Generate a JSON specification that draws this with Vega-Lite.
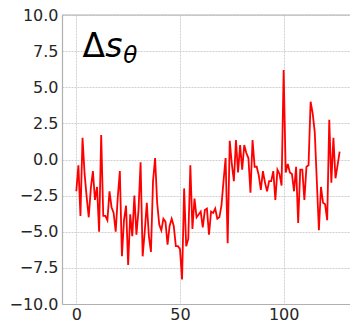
{
  "$schema": "https://vega.github.io/schema/vega-lite/v6.json",
  "autosize": "none",
  "padding": {"left": 62, "top": 15, "right": 0, "bottom": 18},
  "width": 288,
  "height": 289,
  "background": "white",
  "config": {
    "view": {"stroke": null},
    "font": "DejaVu Sans",
    "axis": {
      "labelFont": "DejaVu Sans",
      "labelFontSize": 16,
      "labelColor": "#262626",
      "labelOverlap": false,
      "labelBound": false,
      "domainColor": "#b0b0b0",
      "domainWidth": 1.2,
      "gridColor": "#cfcfcf",
      "gridDash": [2, 1],
      "gridWidth": 1,
      "ticks": false,
      "title": null
    }
  },
  "layer": [
    {
      "data": {"values": [
        {"x":0,"y":-2.2},{"x":1,"y":-0.4},{"x":2,"y":-3.9},{"x":3,"y":1.5},{"x":4,"y":-1.0},{"x":5,"y":-2.6},{"x":6,"y":-4.0},{"x":7,"y":-2.0},{"x":8,"y":-0.8},{"x":9,"y":-2.8},
        {"x":10,"y":-1.9},{"x":11,"y":-5.0},{"x":12,"y":1.7},{"x":13,"y":-3.9},{"x":14,"y":-3.9},{"x":15,"y":-4.2},{"x":16,"y":-2.2},{"x":17,"y":-3.3},{"x":18,"y":-3.7},{"x":19,"y":-5.0},
        {"x":20,"y":-2.6},{"x":21,"y":-0.8},{"x":22,"y":-6.7},{"x":23,"y":-4.2},{"x":24,"y":-3.2},{"x":25,"y":-7.3},{"x":26,"y":-3.8},{"x":27,"y":-5.3},{"x":28,"y":-2.5},{"x":29,"y":-5.2},
        {"x":30,"y":-3.5},{"x":31,"y":-0.2},{"x":32,"y":-6.7},{"x":33,"y":-5.0},{"x":34,"y":-3.0},{"x":35,"y":-5.3},{"x":36,"y":-6.4},{"x":37,"y":-1.5},{"x":38,"y":0.1},{"x":39,"y":-3.0},
        {"x":40,"y":-4.5},{"x":41,"y":-4.9},{"x":42,"y":-4.1},{"x":43,"y":-4.3},{"x":44,"y":-5.9},{"x":45,"y":-4.6},{"x":46,"y":-4.1},{"x":47,"y":-4.6},{"x":48,"y":-6.0},{"x":49,"y":-6.0},
        {"x":50,"y":-6.2},{"x":51,"y":-8.3},{"x":52,"y":-2.0},{"x":53,"y":-6.0},{"x":54,"y":-5.5},{"x":55,"y":-0.4},{"x":56,"y":-4.8},{"x":57,"y":-2.7},{"x":58,"y":-4.0},{"x":59,"y":-3.8},
        {"x":60,"y":-3.6},{"x":61,"y":-4.7},{"x":62,"y":-3.5},{"x":63,"y":-3.4},{"x":64,"y":-5.2},{"x":65,"y":-3.6},{"x":66,"y":-3.7},{"x":67,"y":-3.4},{"x":68,"y":-4.1},{"x":69,"y":-4.0},
        {"x":70,"y":-3.2},{"x":71,"y":-1.5},{"x":72,"y":0.1},{"x":73,"y":-5.8},{"x":74,"y":1.3},{"x":75,"y":-0.3},{"x":76,"y":-1.5},{"x":77,"y":1.35},{"x":78,"y":-0.9},{"x":79,"y":1.0},
        {"x":80,"y":-0.7},{"x":81,"y":1.0},{"x":82,"y":0.45},{"x":83,"y":0.1},{"x":84,"y":-2.3},{"x":85,"y":1.35},{"x":86,"y":-0.5},{"x":87,"y":-0.5},{"x":88,"y":-1.1},{"x":89,"y":-2.1},
        {"x":90,"y":-0.8},{"x":91,"y":-1.6},{"x":92,"y":-2.2},{"x":93,"y":-1.5},{"x":94,"y":-1.5},{"x":95,"y":-0.8},{"x":96,"y":-2.8},{"x":97,"y":-0.7},{"x":98,"y":-1.0},{"x":99,"y":-1.8},
        {"x":100,"y":6.2},{"x":101,"y":-0.9},{"x":102,"y":-0.3},{"x":103,"y":-0.9},{"x":104,"y":-1.0},{"x":105,"y":-2.2},{"x":106,"y":-0.5},{"x":107,"y":-4.4},{"x":108,"y":-0.7},{"x":109,"y":-0.7},
        {"x":110,"y":-2.8},{"x":111,"y":-0.5},{"x":112,"y":-0.4},{"x":113,"y":4.0},{"x":114,"y":3.2},{"x":115,"y":1.9},{"x":116,"y":-1.5},{"x":117,"y":-4.9},{"x":118,"y":-1.9},{"x":119,"y":-3.0},
        {"x":120,"y":-3.1},{"x":121,"y":-4.2},{"x":122,"y":2.75},{"x":123,"y":-1.6},{"x":124,"y":1.5},{"x":125,"y":-1.3},{"x":126,"y":-0.4},{"x":127,"y":0.55}
      ]},
      "mark": {"type": "line", "color": "#ff0000", "strokeWidth": 1.8, "clip": true},
      "encoding": {
        "x": {"field": "x", "type": "quantitative",
              "scale": {"domain": [-6.9, 132], "nice": false, "zero": false},
              "axis": {"values": [0, 50, 100], "labelPadding": 2, "grid": true, "labelOverlap": false}},
        "y": {"field": "y", "type": "quantitative",
              "scale": {"domain": [-10, 10], "nice": false, "zero": false},
              "axis": {"values": [-10, -7.5, -5, -2.5, 0, 2.5, 5, 7.5, 10], "format": ".1f", "labelPadding": 4, "grid": true, "labelOverlap": false}}
      }
    },
    {
      "data": {"values": [{"top": 10}]},
      "mark": {"type": "rule", "color": "#b0b0b0", "strokeWidth": 1.2},
      "encoding": {"y": {"field": "top", "type": "quantitative",
              "scale": {"domain": [-10, 10], "nice": false, "zero": false},
              "axis": {"values": [-10, -7.5, -5, -2.5, 0, 2.5, 5, 7.5, 10], "format": ".1f", "labelPadding": 4, "grid": true, "labelOverlap": false}}}
    },
    {
      "data": {"values": [{"x": 3.0, "y": 7.1, "t": "Δ"}]},
      "mark": {"type": "text", "font": "DejaVu Sans", "fontSize": 33, "align": "left", "baseline": "alphabetic", "color": "black"},
      "encoding": {
        "x": {"field": "x", "type": "quantitative",
              "scale": {"domain": [-6.9, 132], "nice": false, "zero": false},
              "axis": {"values": [0, 50, 100], "labelPadding": 2, "grid": true, "labelOverlap": false}},
        "y": {"field": "y", "type": "quantitative",
              "scale": {"domain": [-10, 10], "nice": false, "zero": false},
              "axis": {"values": [-10, -7.5, -5, -2.5, 0, 2.5, 5, 7.5, 10], "format": ".1f", "labelPadding": 4, "grid": true, "labelOverlap": false}},
        "text": {"field": "t"}}
    },
    {
      "data": {"values": [{"x": 14.0, "y": 7.1, "t": "s"}]},
      "mark": {"type": "text", "font": "DejaVu Sans", "fontSize": 33, "fontStyle": "italic", "align": "left", "baseline": "alphabetic", "color": "black"},
      "encoding": {
        "x": {"field": "x", "type": "quantitative",
              "scale": {"domain": [-6.9, 132], "nice": false, "zero": false},
              "axis": {"values": [0, 50, 100], "labelPadding": 2, "grid": true, "labelOverlap": false}},
        "y": {"field": "y", "type": "quantitative",
              "scale": {"domain": [-10, 10], "nice": false, "zero": false},
              "axis": {"values": [-10, -7.5, -5, -2.5, 0, 2.5, 5, 7.5, 10], "format": ".1f", "labelPadding": 4, "grid": true, "labelOverlap": false}},
        "text": {"field": "t"}}
    },
    {
      "data": {"values": [{"x": 22.6, "y": 6.7, "t": "θ"}]},
      "mark": {"type": "text", "font": "DejaVu Sans", "fontSize": 23, "fontStyle": "italic", "align": "left", "baseline": "alphabetic", "color": "black"},
      "encoding": {
        "x": {"field": "x", "type": "quantitative",
              "scale": {"domain": [-6.9, 132], "nice": false, "zero": false},
              "axis": {"values": [0, 50, 100], "labelPadding": 2, "grid": true, "labelOverlap": false}},
        "y": {"field": "y", "type": "quantitative",
              "scale": {"domain": [-10, 10], "nice": false, "zero": false},
              "axis": {"values": [-10, -7.5, -5, -2.5, 0, 2.5, 5, 7.5, 10], "format": ".1f", "labelPadding": 4, "grid": true, "labelOverlap": false}},
        "text": {"field": "t"}}
    }
  ]
}
